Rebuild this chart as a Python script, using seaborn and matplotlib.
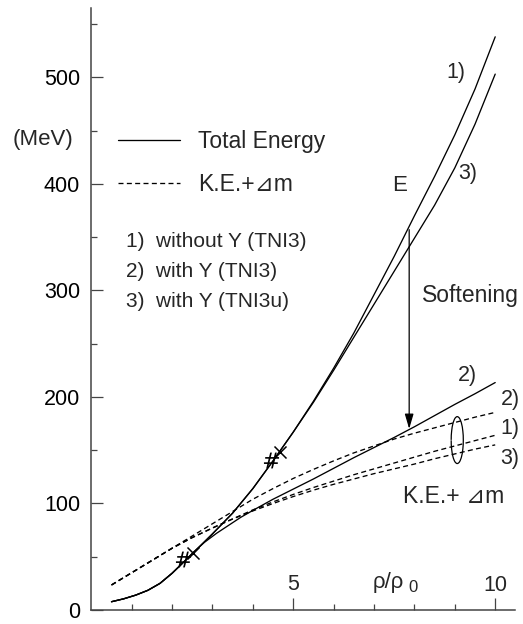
import matplotlib
matplotlib.use('Agg')
import matplotlib.pyplot as plt
from matplotlib.patches import Arc
import seaborn as sns

# Total energy curves, x = rho/rho0, y = MeV
rho_tot = [0.5, 0.8, 1.1, 1.4, 1.7, 2.0, 2.3, 2.6, 3.0, 3.5, 4.0, 4.5,
           5.0, 5.5, 6.0, 6.5, 7.0, 7.5, 8.0, 8.5, 9.0, 9.5, 10.0]
e_tot_1 = [7.8, 10.5, 14, 18.5, 25, 34.5, 45.5, 56.5, 71.5, 91, 114, 140,
           167, 196, 227, 260, 296, 332, 370, 407, 446, 489, 538]
e_tot_3 = [7.8, 10.5, 14, 18.5, 25, 34.5, 45.5, 56.5, 71.5, 91, 114, 140,
           167, 195, 225, 256, 287, 318, 349, 380, 415, 456, 503]

rho_tot_2 = [0.5, 0.8, 1.1, 1.4, 1.7, 2.0, 2.3, 2.52, 2.8, 3.1, 3.4, 3.7, 4.0,
             4.5, 5.0, 5.5, 6.0, 6.5, 7.0, 7.5, 8.0, 8.5, 9.0, 9.5, 10.0]
e_tot_2 = [7.8, 10.5, 14, 18.5, 25, 34.5, 45.5, 54, 63.5, 72, 79.5, 87, 93.5,
           104, 113.5, 123, 133, 143, 152.5, 162, 172, 182.5, 193, 203, 213.5]

# K.E. + delta m curves
rho_ke = [0.5, 1.0, 1.5, 2.0, 2.5, 3.0, 3.5, 4.0, 4.5, 5.0,
          5.5, 6.0, 6.5, 7.0, 7.5, 8.0, 8.5, 9.0, 9.5, 10.0]
ke_2 = [23.5, 35, 46.5, 58, 69.5, 81, 92.5, 104, 114, 123.5,
        132, 140, 147.5, 154, 160.5, 166, 171, 176, 181, 185.5]
ke_1 = [23.5, 35, 46.5, 58, 68, 77, 85.5, 94, 101.5, 108.5,
        115, 121, 127, 132.5, 138, 143.5, 149, 154, 159, 164]
ke_3 = [23.5, 35, 46.5, 58, 68, 77, 85.5, 93, 100, 106.5,
        112.5, 118, 123, 128, 132.5, 137, 142, 146.5, 151, 155]

# hyperon onset marks
hash_rho = [2.28, 4.46]
hash_e = [47.5, 141]
cross_rho = [2.52, 4.68]
cross_e = [53.8, 148.5]

# softening arrow
arrow_rho = 7.87
arrow_from = 357
arrow_to = 170

y_major = [0, 100, 200, 300, 400, 500]
y_minor = [50, 150, 250, 350, 450, 550]
x_major = [5, 10]
x_minor = [1, 2, 3, 4, 6, 7, 8, 9]

sns.set_theme(style='ticks')
plt.rcParams['font.family'] = ['Liberation Sans', 'DejaVu Sans', 'Noto Sans CJK JP']
plt.rcParams['lines.scale_dashes'] = False

fig = plt.figure(figsize=(5.23, 6.24), dpi=100)
ax = fig.add_axes([0.1746, 0.0224, 0.8101, 0.9647])

lw = 0.95
dash = (0, (3.6, 2.4))
sns.lineplot(x=rho_tot, y=e_tot_1, ax=ax, color='black', lw=lw, sort=False,
             estimator=None, label='Total Energy')
sns.lineplot(x=rho_tot, y=e_tot_3, ax=ax, color='black', lw=lw, sort=False, estimator=None)
sns.lineplot(x=rho_tot_2, y=e_tot_2, ax=ax, color='black', lw=lw, sort=False, estimator=None)
sns.lineplot(x=rho_ke, y=ke_2, ax=ax, color='black', lw=lw, linestyle=dash, sort=False,
             estimator=None, label='K.E.+\u22bfm')
sns.lineplot(x=rho_ke, y=ke_1, ax=ax, color='black', lw=lw, linestyle=dash, sort=False, estimator=None)
sns.lineplot(x=rho_ke, y=ke_3, ax=ax, color='black', lw=lw, linestyle=dash, sort=False, estimator=None)

sns.scatterplot(x=hash_rho, y=hash_e, ax=ax, marker='$\\#$', s=130, color='black',
                linewidth=0, zorder=5)
sns.scatterplot(x=cross_rho, y=cross_e, ax=ax, marker='x', s=75, color='black',
                linewidth=1.1, zorder=5)

ax.annotate('', xy=(arrow_rho, arrow_to), xytext=(arrow_rho, arrow_from),
            arrowprops=dict(arrowstyle='-|>,head_width=0.22,head_length=0.75',
                            color='black', lw=0.9, shrinkA=0, shrinkB=0,
                            mutation_scale=12))
ax.add_patch(Arc((9.06, 159.5), width=0.3, height=44, theta1=-130, theta2=130,
                 color='black', lw=0.9))

ax.set_xlim(0, 10.49)
ax.set_ylim(0, 565)
ax.set_xlabel('')
ax.set_ylabel('')
ax.set_yticks(y_major)
ax.set_yticks(y_minor, minor=True)
ax.set_xticks(x_major)
ax.set_xticks(x_minor, minor=True)
ax.tick_params(which='major', direction='in', length=8.6, width=0.9, color='#444444')
ax.tick_params(which='minor', direction='in', length=4.3, width=0.9, color='#444444')
ax.tick_params(axis='x', labelbottom=False)
ax.tick_params(axis='y', labelsize=15.5, pad=8, labelcolor='black')
for side in ['top', 'right']:
    ax.spines[side].set_visible(False)
for side in ['left', 'bottom']:
    ax.spines[side].set_color('#444444')
    ax.spines[side].set_linewidth(1.1)

ax.legend(loc='center left', bbox_to_anchor=(0.2256, 0.739), bbox_transform=fig.transFigure,
          frameon=False, fontsize=16.5, handlelength=2.7, handletextpad=0.8,
          labelspacing=0.85, borderpad=0, borderaxespad=0)

ax.text(-1.96, 442, '(MeV)', fontsize=16, ha='left', va='center', clip_on=False)
ax.text(0.87, 346, '1)  without Y (TNI3)', fontsize=15, ha='left', va='center')
ax.text(0.87, 318, '2)  with Y (TNI3)', fontsize=15, ha='left', va='center')
ax.text(0.87, 290, '3)  with Y (TNI3u)', fontsize=15, ha='left', va='center')

ax.text(7.62, 398.7, 'E', fontsize=16, ha='center', va='center')
ax.text(8.19, 295.5, 'Softening', fontsize=16.5, ha='left', va='center', clip_on=False)
ax.text(8.8, 504.7, '1)', fontsize=15.5, ha='left', va='center')
ax.text(9.08, 410, '3)', fontsize=15.5, ha='left', va='center')
ax.text(9.08, 220.5, '2)', fontsize=15.5, ha='left', va='center')
ax.text(10.13, 198, '2)', fontsize=15.5, ha='left', va='center', clip_on=False)
ax.text(10.13, 170, '1)', fontsize=15.5, ha='left', va='center', clip_on=False)
ax.text(10.13, 142.6, '3)', fontsize=15.5, ha='left', va='center', clip_on=False)
ax.text(7.72, 107, 'K.E.+ \u22bfm', fontsize=16.5, ha='left', va='center')

ax.text(5, 24, '5', fontsize=15.5, ha='center', va='center')
ax.text(10, 23, '10', fontsize=15.5, ha='center', va='center')
ax.text(6.97, 21, '\u03c1/\u03c1', fontsize=16, ha='left', va='baseline')
ax.text(7.86, 17, '0', fontsize=12, ha='left', va='baseline')

fig.savefig('out.png', dpi=100)
